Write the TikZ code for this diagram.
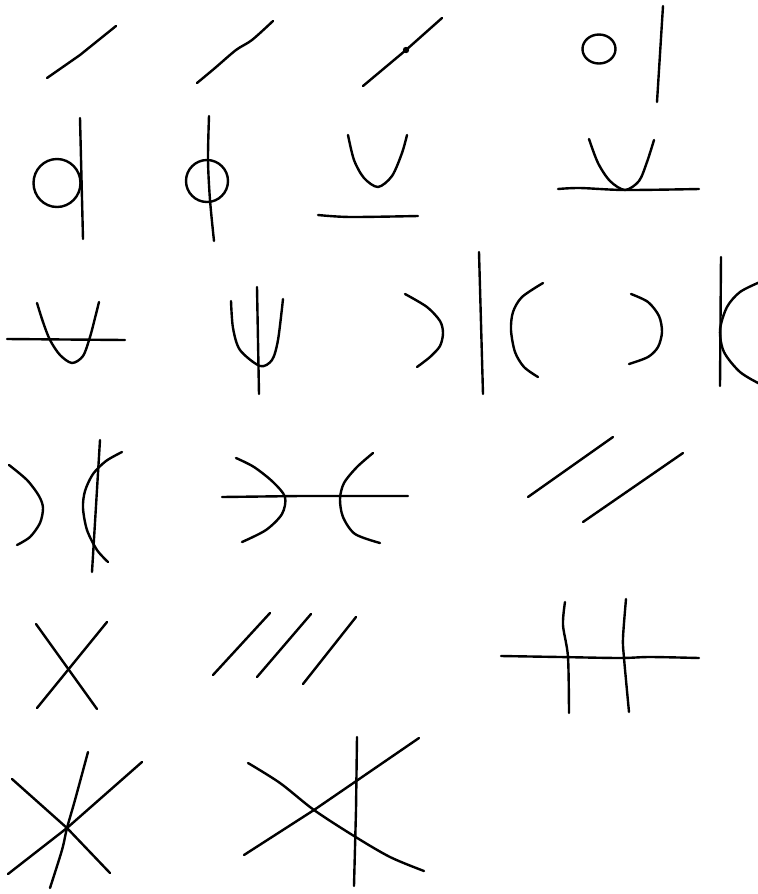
\documentclass[tikz,border=0pt]{standalone}
\begin{document}
\begin{tikzpicture}[x=0.75pt,y=-0.75pt,
  ink/.style={line width=1.8pt,line cap=round,line join=round,black}]
\useasboundingbox[fill=white] (0,0) rectangle (758,894);
% Row 1
\draw[ink] (47,78) -- (80,55) -- (116,26);
\draw[ink] plot[smooth] coordinates {(197,83) (215,68) (236,50) (252,40) (273,21)};
\draw[ink] (363,86) -- (406,50) -- (442,18);
\fill (406,50) circle (3.2);
\draw[ink] (599,49) ellipse (16.5 and 14.5);
\draw[ink] (663,6) -- (657,102);
% Row 2
\draw[ink] (57,183) ellipse (23.5 and 24);
\draw[ink] (80,118) -- (83,239);
\draw[ink] (207,181) ellipse (21 and 21);
\draw[ink] plot[smooth] coordinates {(209,116) (208,160) (210,200) (214,241)};
\draw[ink] plot[smooth] coordinates {(348,135) (354,160) (364,178) (378,187) (392,176) (402,153) (407,135)};
\draw[ink] plot[smooth] coordinates {(318,215) (350,217) (418,216)};
\draw[ink] plot[smooth] coordinates {(589,139) (598,163) (610,181) (625,190) (639,181) (647,162) (654,140)};
\draw[ink] plot[smooth] coordinates {(558,189) (580,188) (625,190) (699,189)};
% Row 3
\draw[ink] plot[smooth] coordinates {(37,303) (43,322) (50,340) (60,355) (72,363) (83,356) (90,337) (95,318) (99,302)};
\draw[ink] (7,339) -- (125,340);
\draw[ink] plot[smooth] coordinates {(231,301) (233,328) (240,350) (260,366) (272,360) (278,340) (283,299)};
\draw[ink] (257,287) -- (259,394);
\draw[ink] plot[smooth] coordinates {(405,294) (427,307) (440,321) (443,333) (440,346) (430,357) (417,367)};
\draw[ink] (479,252) -- (483,394);
\draw[ink] plot[smooth] coordinates {(543,283) (522,297) (513,312) (511,330) (515,352) (524,367) (538,377)};
\draw[ink] plot[smooth] coordinates {(631,294) (648,302) (659,316) (662,332) (658,347) (648,357) (629,364)};
\draw[ink] (721,257) -- (720,386);
\draw[ink] plot[smooth] coordinates {(760,282) (740,292) (727,307) (720,330) (724,352) (740,372) (760,384)};
% Row 4
\draw[ink] plot[smooth] coordinates {(9,465) (27,480) (39,496) (43,508) (40,523) (30,537) (17,545)};
\draw[ink] plot[smooth] coordinates {(122,452) (106,461) (93,474) (85,491) (83,508) (87,530) (97,550) (108,562)};
\draw[ink] (100,440) -- (92,572);
\draw[ink] (222,497) -- (300,496) -- (408,496);
\draw[ink] plot[smooth] coordinates {(236,458) (254,467) (273,482) (285,497) (282,514) (266,530) (242,542)};
\draw[ink] plot[smooth] coordinates {(373,453) (357,467) (344,483) (340,499) (343,517) (355,534) (380,543)};
\draw[ink] (528,497) -- (613,437);
\draw[ink] (583,522) -- (683,453);
% Row 5
\draw[ink] (36,624) -- (97,709);
\draw[ink] (107,622) -- (37,708);
\draw[ink] (213,675) -- (270,613);
\draw[ink] (257,677) -- (311,614);
\draw[ink] (303,684) -- (356,617);
\draw[ink] plot[smooth] coordinates {(501,656) (560,657) (620,658) (650,657) (699,658)};
\draw[ink] plot[smooth] coordinates {(565,602) (563,625) (568,657) (569,713)};
\draw[ink] plot[smooth] coordinates {(626,599) (623,638) (624,658) (629,712)};
% Row 6
\draw[ink] (12,779) -- (67,828) -- (110,873);
\draw[ink] (142,762) -- (67,828) -- (8,874);
\draw[ink] plot[smooth] coordinates {(88,752) (75,800) (67,828) (62,850) (50,888)};
\draw[ink] plot[smooth] coordinates {(248,763) (280,783) (314,810) (354,836) (390,857) (424,871)};
\draw[ink] (419,738) -- (314,810) -- (244,855);
\draw[ink] (357,737) -- (356,810) -- (354,886);
\end{tikzpicture}
\end{document}
